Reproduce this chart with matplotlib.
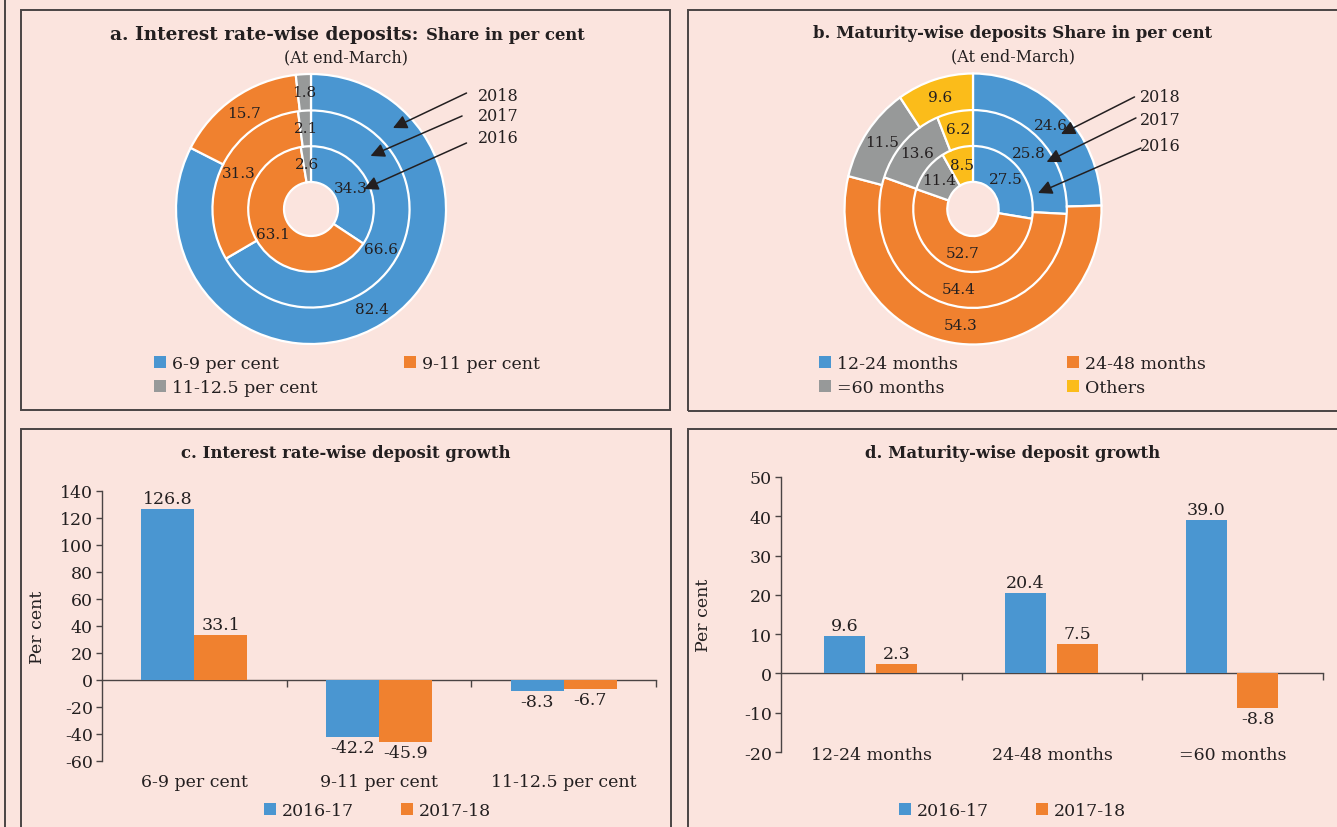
import matplotlib
matplotlib.use('Agg')
import matplotlib.pyplot as plt
from matplotlib.patches import Rectangle, Patch
import numpy as np

# ---------------- data ----------------
share_years = ['2016', '2017', '2018']
rate_cats = ['6-9 per cent', '9-11 per cent', '11-12.5 per cent']
rate_share_2016 = [34.3, 63.1, 2.6]
rate_share_2017 = [66.6, 31.3, 2.1]
rate_share_2018 = [82.4, 15.7, 1.8]

mat_cats = ['12-24 months', '24-48 months', '=60 months', 'Others']
mat_share_2016 = [27.5, 52.7, 11.4, 8.5]
mat_share_2017 = [25.8, 54.4, 13.6, 6.2]
mat_share_2018 = [24.6, 54.3, 11.5, 9.6]

growth_periods = ['2016-17', '2017-18']
rate_growth_1617 = [126.8, -42.2, -8.3]
rate_growth_1718 = [33.1, -45.9, -6.7]

mat_bar_cats = ['12-24 months', '24-48 months', '=60 months']
mat_growth_1617 = [9.6, 20.4, 39.0]
mat_growth_1718 = [2.3, 7.5, -8.8]

# ---------------- style ----------------
W, H = 1337, 828
BG = '#FBE4DE'
BLUE = '#4A96D1'
ORANGE = '#F0812F'
GRAY = '#979999'
YELLOW = '#FBBC1A'
TXT = '#231F20'
FRAME = '#4A4444'

plt.rcParams['font.family'] = ['DejaVu Serif']
plt.rcParams['axes.unicode_minus'] = False
plt.rcParams['text.color'] = TXT
plt.rcParams['axes.labelcolor'] = TXT
plt.rcParams['xtick.color'] = TXT
plt.rcParams['ytick.color'] = TXT

fig = plt.figure(figsize=(W / 100, H / 100), dpi=100, facecolor=BG)


def fx(x):
    return x / W


def fy(y):
    return 1 - y / H


def rect(x0, y0, x1, y1):
    return [x0 / W, 1 - y1 / H, (x1 - x0) / W, (y1 - y0) / H]


# panel frames
for (x0, y0, x1, y1) in [(21, 11, 670, 411), (688, 11, 1345, 412),
                         (21, 430, 671, 840), (688, 430, 1345, 840)]:
    fig.add_artist(Rectangle((fx(x0), fy(y1)), (x1 - x0) / W, (y1 - y0) / H,
                             transform=fig.transFigure, fill=False,
                             edgecolor=FRAME, linewidth=1.4))
fig.add_artist(plt.Line2D([fx(4.5), fx(4.5)], [0, 1], transform=fig.transFigure,
                          color=FRAME, linewidth=1.4))


def donut(ax, rings, colors, label_fs=11):
    radii = [0.47, 0.735, 1.0]
    width = 0.27
    for vals, r in zip(rings, radii):
        wedges, _ = ax.pie(vals, radius=r, colors=colors, startangle=90,
                           counterclock=False,
                           wedgeprops=dict(width=width, edgecolor='white',
                                           linewidth=1.6))
        for w, v in zip(wedges, vals):
            ang = np.deg2rad((w.theta1 + w.theta2) / 2)
            rr = r - width / 2
            ax.text(rr * np.cos(ang), rr * np.sin(ang), f'{v:.1f}',
                    ha='center', va='center', fontsize=label_fs, color=TXT)


def arrows(ax, heads, tails, texty, textx):
    for yr, hd, tl, ty in zip(share_years[::-1], heads, tails, texty):
        ax.annotate('', xy=hd, xytext=tl,
                    arrowprops=dict(arrowstyle='-|>', color=TXT, lw=1.1,
                                    mutation_scale=21, shrinkA=0, shrinkB=0))
        ax.text(textx, ty, yr, ha='left', va='center', fontsize=11.5)


def col_legend(labels, colors, x_px, y_top_px, fs=12.5):
    handles = [Patch(facecolor=c, edgecolor='none') for c in colors]
    fig.legend(handles, labels, loc='upper left',
               bbox_to_anchor=(fx(x_px), fy(y_top_px)), frameon=False,
               borderpad=0, borderaxespad=0, handlelength=0.7,
               handleheight=0.7, handletextpad=0.35, labelspacing=0.42,
               fontsize=fs)


# ---------------- panel a ----------------
cx, cy, R = 311, 210, 135
half = 150
axa = fig.add_axes(rect(cx - half, cy - half, cx + half, cy + half))
donut(axa, [rate_share_2016, rate_share_2017, rate_share_2018],
      [BLUE, ORANGE, GRAY])
axa.set_aspect('auto')
axa.set_xlim(-half / R, half / R)
axa.set_ylim(-half / R, half / R)
axa.axis('off')
arrows(axa,
       heads=[(0.607, 0.60), (0.441, 0.393), (0.393, 0.148)],
       tails=[(1.152, 0.859), (1.119, 0.689), (1.152, 0.489)],
       texty=[0.844, 0.689, 0.526], textx=1.237)

fig.text(fx(419), fy(35), 'a. Interest rate-wise deposits:', ha='right',
         va='center', fontsize=13.3, fontweight='bold')
fig.text(fx(426), fy(35), 'Share in per cent', ha='left', va='center',
         fontsize=11.8, fontweight='bold')
fig.text(fx(346), fy(58), '(At end-March)', ha='center', va='center',
         fontsize=11.5)

col_legend([rate_cats[0], rate_cats[2]], [BLUE, GRAY], 154, 356)
col_legend([rate_cats[1]], [ORANGE], 404, 356)

# ---------------- panel b ----------------
cx, cy, RX, RY = 973, 210, 128.5, 135.5
axb = fig.add_axes(rect(cx - half, cy - half, cx + half, cy + half))
donut(axb, [mat_share_2016, mat_share_2017, mat_share_2018],
      [BLUE, ORANGE, GRAY, YELLOW])
axb.set_aspect('auto')
axb.set_xlim(-half / RX, half / RX)
axb.set_ylim(-half / RY, half / RY)
axb.axis('off')
arrows(axb,
       heads=[(0.685, 0.553), (0.573, 0.347), (0.506, 0.118)],
       tails=[(1.257, 0.827), (1.268, 0.672), (1.307, 0.45)],
       texty=[0.827, 0.664, 0.472], textx=1.30)

fig.text(fx(1013), fy(34), 'b. Maturity-wise deposits Share in per cent',
         ha='center', va='center', fontsize=11.9, fontweight='bold')
fig.text(fx(1013), fy(57), '(At end-March)', ha='center', va='center',
         fontsize=11.5)

col_legend([mat_cats[0], mat_cats[2]], [BLUE, GRAY], 819, 356)
col_legend([mat_cats[1], mat_cats[3]], [ORANGE, YELLOW], 1067, 356)


# ---------------- bar panels ----------------
def bar_panel(ax, cats, s1, s2, ylim, ystep, width, offsets, xpad):
    x = np.arange(len(cats))
    b1 = ax.bar(x + offsets[0], s1, width, color=BLUE, zorder=2)
    b2 = ax.bar(x + offsets[1], s2, width, color=ORANGE, zorder=2)
    ax.bar_label(b1, labels=[f'{v:.1f}' for v in s1], padding=1.5,
                 fontsize=12.5, color=TXT)
    ax.bar_label(b2, labels=[f'{v:.1f}' for v in s2], padding=1.5,
                 fontsize=12.5, color=TXT)
    ax.set_xlim(-0.5, len(cats) - 0.5)
    ax.set_ylim(*ylim)
    ax.set_yticks(np.arange(ylim[0], ylim[1] + 1, ystep))
    ax.set_xticks(x, cats)
    ax.tick_params(axis='x', length=0, pad=xpad, labelsize=12.5)
    ax.tick_params(axis='y', direction='out', length=4.5, width=1.0,
                   color=FRAME, pad=2, labelsize=12.5)
    for s in ['top', 'right', 'bottom']:
        ax.spines[s].set_visible(False)
    ax.spines['left'].set_color(FRAME)
    ax.spines['left'].set_linewidth(1.0)
    ax.patch.set_visible(False)
    zero = (0 - ylim[0]) / (ylim[1] - ylim[0])
    sec = ax.secondary_xaxis(zero)
    sec.set_xticks(np.arange(1, len(cats) + 1) - 0.5)
    sec.tick_params(axis='x', direction='out', length=5, width=1.0,
                    color=FRAME, labelbottom=False, labeltop=False)
    for s in ['top', 'bottom']:
        sec.spines[s].set_color(FRAME)
        sec.spines[s].set_linewidth(1.0)
    ax.set_ylabel('Per cent', fontsize=12.5)


axc = fig.add_axes(rect(102, 492, 656, 762))
bar_panel(axc, rate_cats, rate_growth_1617, rate_growth_1718, (-60, 140), 20,
          0.287, (-0.1435, 0.1435), xpad=8.5)
axc.yaxis.set_label_coords((46 - 102) / (656 - 102), 0.5)
fig.text(fx(346), fy(454), 'c. Interest rate-wise deposit growth',
         ha='center', va='center', fontsize=11.9, fontweight='bold')
col_legend([growth_periods[0]], [BLUE], 264, 803)
col_legend([growth_periods[1]], [ORANGE], 401, 803)

axd = fig.add_axes(rect(781, 478, 1323, 753))
bar_panel(axd, mat_bar_cats, mat_growth_1617, mat_growth_1718, (-20, 50), 10,
          0.228, (-0.147, 0.139), xpad=-4.5)
axd.yaxis.set_label_coords((712 - 781) / (1323 - 781), 0.5)
fig.text(fx(1013), fy(454), 'd. Maturity-wise deposit growth',
         ha='center', va='center', fontsize=11.9, fontweight='bold')
col_legend([growth_periods[0]], [BLUE], 899, 803)
col_legend([growth_periods[1]], [ORANGE], 1036, 803)

fig.savefig('out.png', dpi=100, facecolor=BG)
